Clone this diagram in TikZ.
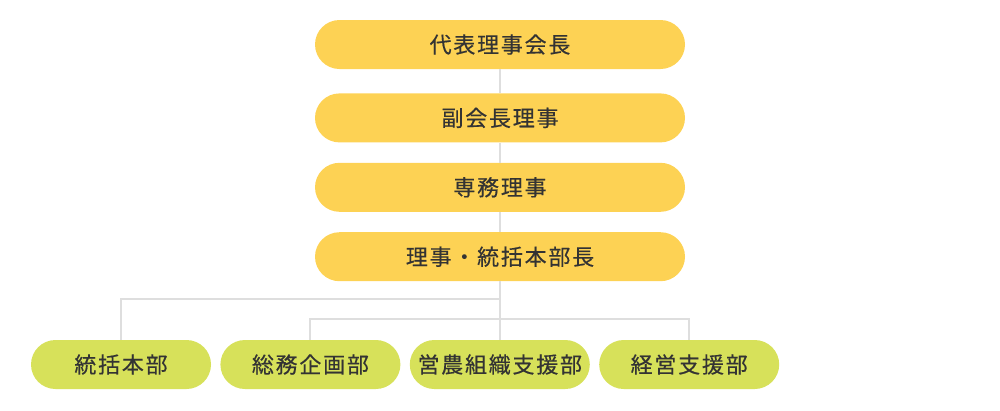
\documentclass[tikz,border=0pt]{standalone}
\usepackage{fontspec}
\setmainfont{Noto Sans CJK JP}[LetterSpace=8,FakeBold=0.4]
\usetikzlibrary{positioning}
\definecolor{topyellow}{HTML}{FDD254}
\definecolor{deptgreen}{HTML}{D7E15A}
\definecolor{linegray}{HTML}{DEDEDE}
\definecolor{textgray}{HTML}{333333}
\begin{document}
\begin{tikzpicture}[x=1pt,y=-1pt,node distance=20pt and 9pt,
officer/.style={
% The shape:
rectangle,
fill=topyellow,
rounded corners=24.5pt,
minimum width=370pt,
minimum height=49pt,
text=textgray,
font=\fontsize{22}{22}\selectfont
},
dept/.style={
rectangle,
fill=deptgreen,
rounded corners=24.5pt,
minimum width=180pt,
minimum height=49pt,
text=textgray,
font=\fontsize{22}{22}\selectfont
},
link/.style={
draw=linegray,
line width=2pt
}
]
\useasboundingbox (0,0) rectangle (1000,410);
% Officers:
\node (chair) [officer] at (500,44.5) {代表理事会長};
\node (vice) [officer,below=24pt of chair] {副会長理事};
\node (exec) [officer,below=of vice] {専務理事};
\node (director) [officer,below=of exec] {理事・統括本部長};
% Departments:
\node (hq) [dept] at (121,364.5) {統括本部};
\node (admin) [dept,right=of hq] {総務企画部};
\node (farm) [dept,right=of admin] {営農組織支援部};
\node (mgmt) [dept,right=of farm] {経営支援部};
\coordinate (j1) at (500,299);
\coordinate (j2) at (500,319);

\draw[link] (chair) -- (vice) (vice) -- (exec) (exec) -- (director);
\draw[link] (director) -- (director.south |- farm.north);
\draw[link] (j1) -| (hq.north);
\draw[link] (admin.north) |- (j2) -| (mgmt.north);
\end{tikzpicture}
\end{document}
